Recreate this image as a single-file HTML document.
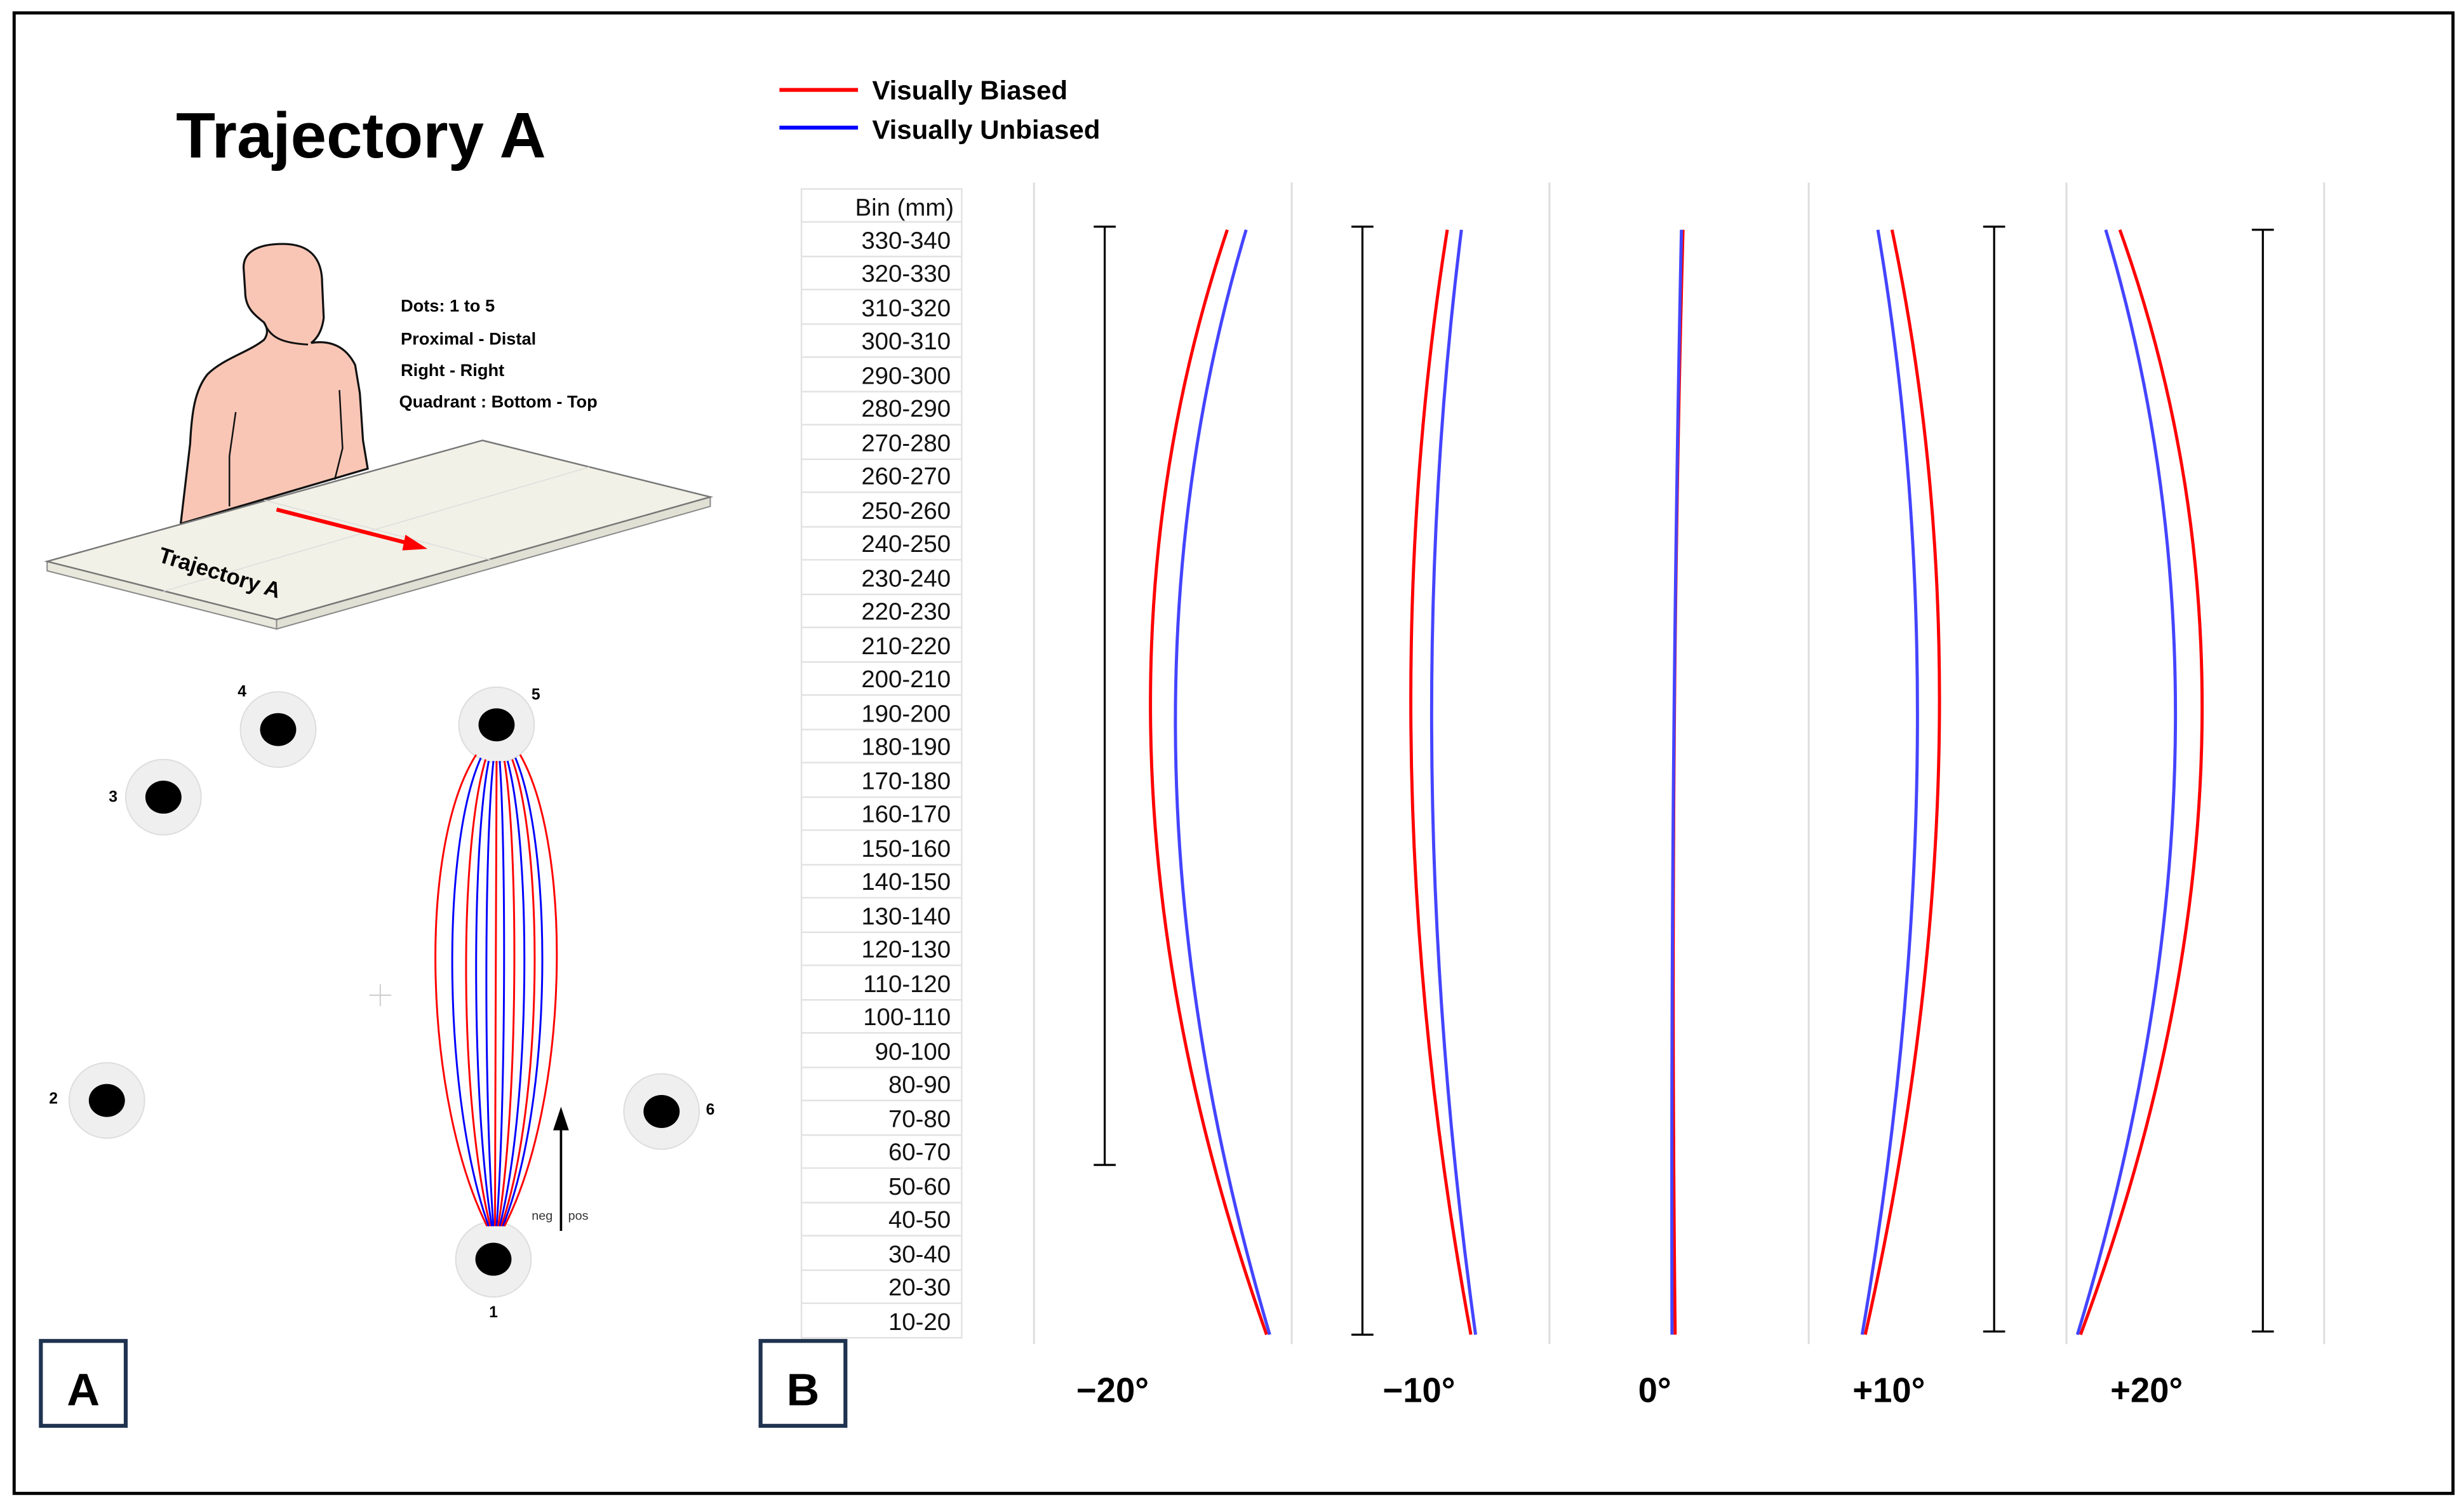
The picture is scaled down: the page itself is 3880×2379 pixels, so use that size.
<!DOCTYPE html>
<html><head><meta charset="utf-8"><style>
html,body{margin:0;padding:0;background:#fff;}
svg{display:block;}
text{font-family:"Liberation Sans",sans-serif;}
</style></head><body>
<svg width="3880" height="2379" viewBox="0 0 1568 961" xmlns="http://www.w3.org/2000/svg">
<rect x="0" y="0" width="1568" height="961" fill="#fff"/>
<rect x="9" y="8" width="1552" height="942" fill="none" stroke="#000" stroke-width="2"/>

<text x="112" y="100" font-size="41" font-weight="bold">Trajectory A</text>

<path d="M115,333 L121,282 C122,262 124,248 132,238 C142,228 158,224 168,216 C171,212 170,208 168,205 C162,200 156,196 156,185 L155,170 C155,160 164,155 180,155 C198,155 205,165 205,180 L206,202 C205,210 202,215 198,218 C210,216 220,220 226,232 L229,250 L231,280 L234,298 Z" fill="#f9c6b6" stroke="#111" stroke-width="1.3"/>
<path d="M168,205 C172,214 178,218 196,219" fill="none" stroke="#111" stroke-width="1.2"/>
<path d="M150,262 L146,290 L146,322" fill="none" stroke="#111" stroke-width="1"/>
<path d="M216,248 L218,285 L213,305" fill="none" stroke="#111" stroke-width="1"/>

<polygon points="30,357 176,394 176,400 30,363" fill="#e8e8dc" stroke="#888" stroke-width="0.8"/>
<polygon points="176,394 452,316 452,322 176,400" fill="#e0e0d4" stroke="#888" stroke-width="0.8"/>
<polygon points="30,357 307,280 452,316 176,394" fill="#f1f1e7" stroke="#777" stroke-width="1"/>
<line x1="104" y1="376" x2="375" y2="297" stroke="#ddd" stroke-width="0.6"/>
<line x1="168" y1="318" x2="312" y2="356" stroke="#ddd" stroke-width="0.6"/>
<line x1="176" y1="324" x2="262" y2="346" stroke="#f00" stroke-width="2.5"/>
<polygon points="272,349 258,340 256,350" fill="#f00"/>
<text x="100" y="357" font-size="14" font-weight="bold" transform="rotate(17 100 357)">Trajectory A</text>

<text x="255" y="198" font-size="11" font-weight="bold">Dots: 1 to 5</text>
<text x="255" y="219" font-size="11" font-weight="bold">Proximal - Distal</text>
<text x="255" y="239" font-size="11" font-weight="bold">Right - Right</text>
<text x="254" y="259" font-size="11" font-weight="bold">Quadrant : Bottom - Top</text>

<g fill="#efefef" stroke="#ddd" stroke-width="0.8">
<circle cx="316" cy="461" r="24"/><circle cx="177" cy="464" r="24"/><circle cx="104" cy="507" r="24"/>
<circle cx="68" cy="700" r="24"/><circle cx="421" cy="707" r="24"/><circle cx="314" cy="801" r="24"/>
</g>
<g fill="#000">
<ellipse cx="316" cy="461" rx="11.5" ry="10.5"/><ellipse cx="177" cy="464" rx="11.5" ry="10.5"/><ellipse cx="104" cy="507" rx="11.5" ry="10.5"/>
<ellipse cx="68" cy="700" rx="11.5" ry="10.5"/><ellipse cx="421" cy="707" rx="11.5" ry="10.5"/><ellipse cx="314" cy="801" rx="11.5" ry="10.5"/>
</g>
<g font-size="10" font-weight="bold" text-anchor="middle">
<text x="154" y="443">4</text><text x="341" y="445">5</text><text x="72" y="510">3</text>
<text x="34" y="702">2</text><text x="452" y="709">6</text><text x="314" y="838">1</text>
</g>
<g fill="none" stroke-width="1.2">
<path d="M310,780 C270,700 265,540 303,480" stroke="#f00"/>
<path d="M311,780 C282,700 280,540 306,482" stroke="#00f"/>
<path d="M312,780 C292,700 292,540 309,483" stroke="#f00"/>
<path d="M313,780 C300,700 300,540 311,484" stroke="#00f"/>
<path d="M314,780 C308,700 308,540 314,484" stroke="#00f"/>
<path d="M315,780 C315,700 316,540 316,484" stroke="#f00"/>
<path d="M316,780 C322,700 322,540 318,484" stroke="#00f"/>
<path d="M317,780 C330,700 330,540 321,484" stroke="#f00"/>
<path d="M318,780 C338,700 338,540 323,484" stroke="#00f"/>
<path d="M319,780 C346,700 346,540 326,483" stroke="#f00"/>
<path d="M320,780 C352,700 352,540 328,482" stroke="#00f"/>
<path d="M321,780 C362,700 365,540 331,480" stroke="#f00"/>
</g>
<g stroke="#ccc" stroke-width="0.8"><line x1="235" y1="633" x2="249" y2="633"/><line x1="242" y1="626" x2="242" y2="640"/></g>
<line x1="357" y1="783" x2="357" y2="716" stroke="#000" stroke-width="1.5"/>
<polygon points="357,704 352,719 362,719" fill="#000"/>
<text x="345" y="776" font-size="8" fill="#333" text-anchor="middle">neg</text>
<text x="368" y="776" font-size="8" fill="#333" text-anchor="middle">pos</text>

<rect x="26" y="853" width="54" height="54" fill="#fff" stroke="#1f3350" stroke-width="2.5"/>
<text x="53" y="894" font-size="29" font-weight="bold" text-anchor="middle">A</text>
<rect x="484" y="853" width="54" height="54" fill="#fff" stroke="#1f3350" stroke-width="2.5"/>
<text x="511" y="894" font-size="29" font-weight="bold" text-anchor="middle">B</text>

<line x1="496" y1="57" x2="546" y2="57" stroke="#f00" stroke-width="2.5"/>
<text x="555" y="63" font-size="17" font-weight="bold">Visually Biased</text>
<line x1="496" y1="81" x2="546" y2="81" stroke="#00f" stroke-width="2.5"/>
<text x="555" y="88" font-size="17" font-weight="bold">Visually Unbiased</text>

<rect x="510" y="120" width="102" height="731" fill="none" stroke="#e2e2e2" stroke-width="1"/>
<text x="607" y="137" font-size="15.5" text-anchor="end" fill="#111">Bin (mm)</text>
<g stroke="#e2e2e2" stroke-width="1">
<line x1="510" y1="141" x2="612" y2="141"/><line x1="510" y1="163" x2="612" y2="163"/><line x1="510" y1="184" x2="612" y2="184"/><line x1="510" y1="206" x2="612" y2="206"/><line x1="510" y1="227" x2="612" y2="227"/><line x1="510" y1="249" x2="612" y2="249"/><line x1="510" y1="270" x2="612" y2="270"/><line x1="510" y1="292" x2="612" y2="292"/><line x1="510" y1="313" x2="612" y2="313"/><line x1="510" y1="335" x2="612" y2="335"/><line x1="510" y1="356" x2="612" y2="356"/><line x1="510" y1="378" x2="612" y2="378"/><line x1="510" y1="399" x2="612" y2="399"/><line x1="510" y1="421" x2="612" y2="421"/><line x1="510" y1="442" x2="612" y2="442"/><line x1="510" y1="464" x2="612" y2="464"/><line x1="510" y1="485" x2="612" y2="485"/><line x1="510" y1="507" x2="612" y2="507"/><line x1="510" y1="528" x2="612" y2="528"/><line x1="510" y1="550" x2="612" y2="550"/><line x1="510" y1="571" x2="612" y2="571"/><line x1="510" y1="593" x2="612" y2="593"/><line x1="510" y1="614" x2="612" y2="614"/><line x1="510" y1="636" x2="612" y2="636"/><line x1="510" y1="657" x2="612" y2="657"/><line x1="510" y1="679" x2="612" y2="679"/><line x1="510" y1="700" x2="612" y2="700"/><line x1="510" y1="722" x2="612" y2="722"/><line x1="510" y1="743" x2="612" y2="743"/><line x1="510" y1="765" x2="612" y2="765"/><line x1="510" y1="786" x2="612" y2="786"/><line x1="510" y1="808" x2="612" y2="808"/><line x1="510" y1="829" x2="612" y2="829"/>
</g>
<g font-size="15.5" text-anchor="end" fill="#111">
<text x="605" y="158">330-340</text><text x="605" y="179">320-330</text><text x="605" y="201">310-320</text><text x="605" y="222">300-310</text><text x="605" y="244">290-300</text><text x="605" y="265">280-290</text><text x="605" y="287">270-280</text><text x="605" y="308">260-270</text><text x="605" y="330">250-260</text><text x="605" y="351">240-250</text><text x="605" y="373">230-240</text><text x="605" y="394">220-230</text><text x="605" y="416">210-220</text><text x="605" y="437">200-210</text><text x="605" y="459">190-200</text><text x="605" y="480">180-190</text><text x="605" y="502">170-180</text><text x="605" y="523">160-170</text><text x="605" y="545">150-160</text><text x="605" y="566">140-150</text><text x="605" y="588">130-140</text><text x="605" y="609">120-130</text><text x="605" y="631">110-120</text><text x="605" y="652">100-110</text><text x="605" y="674">90-100</text><text x="605" y="695">80-90</text><text x="605" y="717">70-80</text><text x="605" y="738">60-70</text><text x="605" y="760">50-60</text><text x="605" y="781">40-50</text><text x="605" y="803">30-40</text><text x="605" y="824">20-30</text><text x="605" y="846">10-20</text>
</g>

<g stroke="#ddd" stroke-width="1.2">
<line x1="658" y1="116" x2="658" y2="855"/><line x1="822" y1="116" x2="822" y2="855"/><line x1="986" y1="116" x2="986" y2="855"/>
<line x1="1151" y1="116" x2="1151" y2="855"/><line x1="1315" y1="116" x2="1315" y2="855"/><line x1="1479" y1="116" x2="1479" y2="855"/>
</g>

<g stroke="#000" stroke-width="1.3">
<line x1="703" y1="144" x2="703" y2="741"/><line x1="696" y1="144" x2="710" y2="144"/><line x1="696" y1="741" x2="710" y2="741"/>
<line x1="867" y1="144" x2="867" y2="849"/><line x1="860" y1="144" x2="874" y2="144"/><line x1="860" y1="849" x2="874" y2="849"/>
<line x1="1269" y1="144" x2="1269" y2="847"/><line x1="1262" y1="144" x2="1276" y2="144"/><line x1="1262" y1="847" x2="1276" y2="847"/>
<line x1="1440" y1="146" x2="1440" y2="847"/><line x1="1433" y1="146" x2="1447" y2="146"/><line x1="1433" y1="847" x2="1447" y2="847"/>
</g>

<g fill="none" stroke-width="2">
<path d="M781,146 Q672,470 806,849" stroke="#f00"/>
<path d="M793,146 Q696,470 808,849" stroke="#44f"/>
<path d="M921,146 Q868,480 936,849" stroke="#f00"/>
<path d="M930,146 Q888,480 939,849" stroke="#44f"/>
<path d="M1071,146 Q1062,480 1066,849" stroke="#f00"/>
<path d="M1070,146 Q1063,480 1064,849" stroke="#44f"/>
<path d="M1204,146 Q1272,470 1187,849" stroke="#f00"/>
<path d="M1195,146 Q1250,470 1185,849" stroke="#44f"/>
<path d="M1349,146 Q1465,470 1324,849" stroke="#f00"/>
<path d="M1340,146 Q1437,470 1322,849" stroke="#44f"/>
</g>

<g font-size="22" font-weight="bold" text-anchor="middle">
<text x="708" y="892">−20°</text><text x="903" y="892">−10°</text><text x="1053" y="892">0°</text>
<text x="1202" y="892">+10°</text><text x="1366" y="892">+20°</text>
</g>
</svg>
</body></html>
